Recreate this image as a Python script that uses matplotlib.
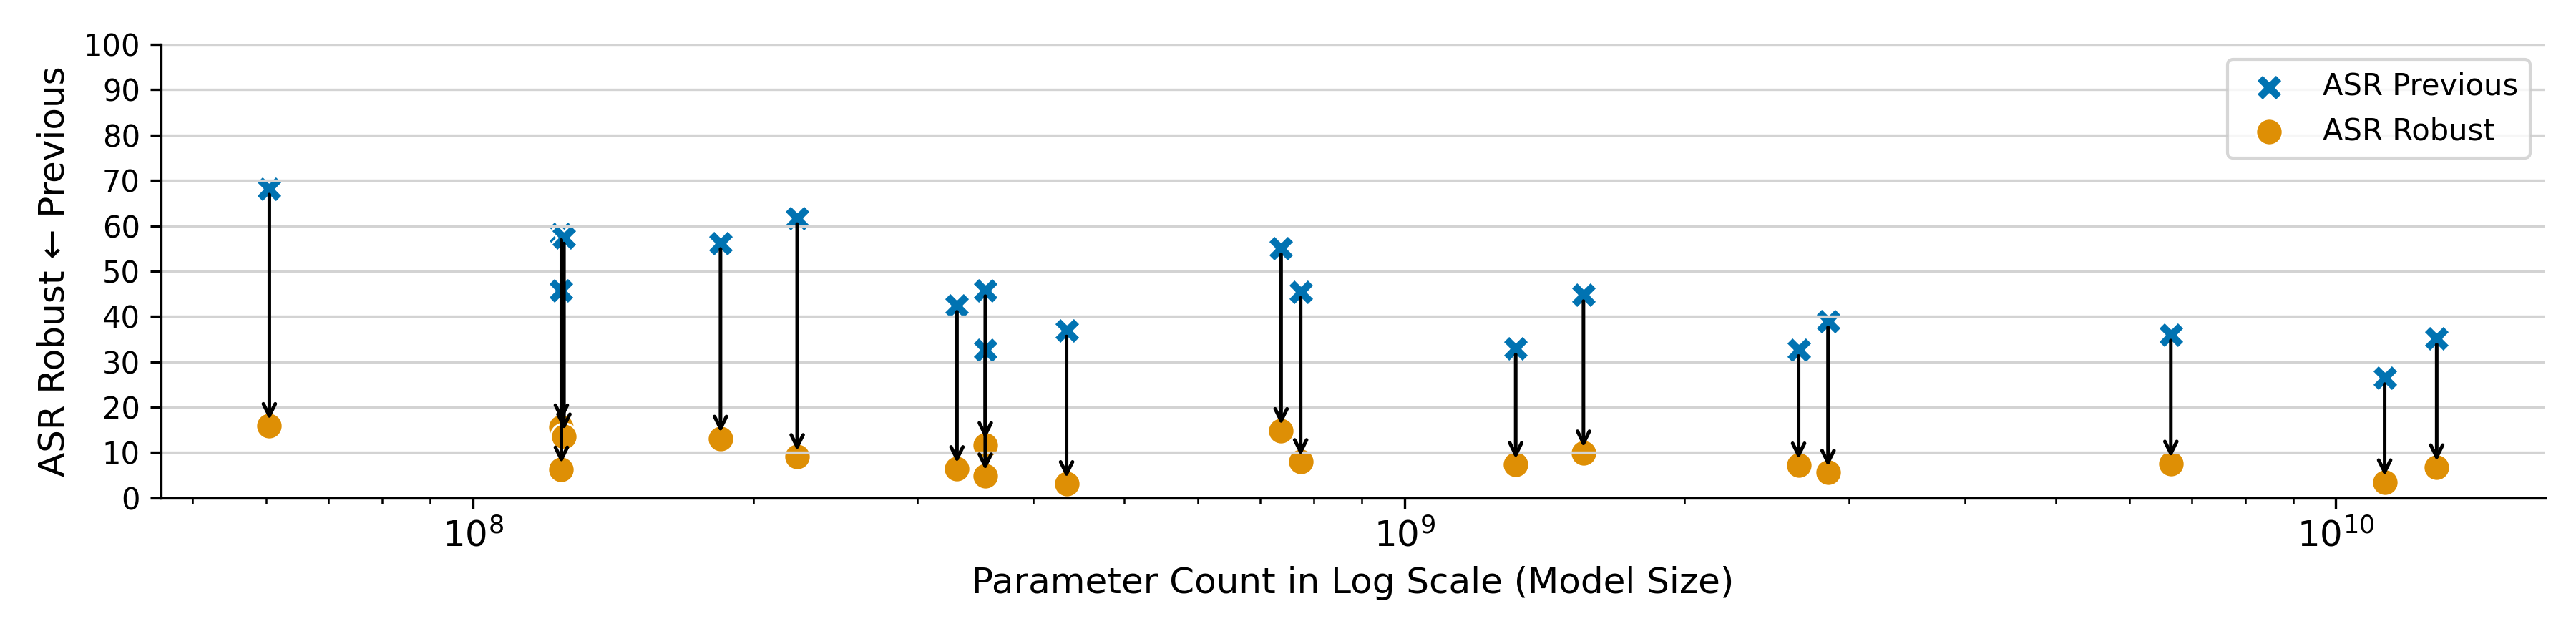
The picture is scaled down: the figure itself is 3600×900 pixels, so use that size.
import matplotlib
matplotlib.use("Agg")
import matplotlib.pyplot as plt

# parameter counts (log x axis) and attack success rates (%)
params = [6.05e7, 1.245e8, 1.253e8, 1.245e8, 1.845e8, 2.23e8, 3.31e8, 3.55e8, 3.55e8,
          4.34e8, 7.375e8, 7.74e8, 1.317e9, 1.557e9, 2.65e9, 2.85e9, 6.65e9,
          1.128e10, 1.283e10]
asr_previous = [68.2, 58.2, 57.4, 45.8, 56.2, 61.7, 42.35, 45.8, 32.6, 36.9, 55.0, 45.4,
                32.9, 44.7, 32.6, 38.9, 36.0, 26.4, 35.1]
asr_robust = [15.9, 15.6, 13.6, 6.3, 13.1, 9.05, 6.4, 11.7, 4.8, 3.1, 14.8, 7.95, 7.3,
              9.85, 7.2, 5.6, 7.6, 3.5, 6.8]

blue = '#0173b2'
orange = '#de8f05'


def main():
    fig, ax = plt.subplots(figsize=(12, 3), dpi=300)
    fig.subplots_adjust(left=0.0625, right=0.988, bottom=0.227, top=0.931)

    ax.scatter(params, asr_previous, marker='X', s=80, color=blue,
               edgecolors='white', linewidths=0.7, label='ASR Previous')
    ax.scatter(params, asr_robust, marker='o', s=80, color=orange,
               edgecolors='white', linewidths=0.7, label='ASR Robust')

    for x, p, r in zip(params, asr_previous, asr_robust):
        ax.annotate('', xy=(x, r), xytext=(x, p),
                    arrowprops=dict(arrowstyle='->', color='black', lw=1.2))

    ax.set_xscale('log')
    ax.set_ylim(0, 100)
    ax.set_yticks(range(0, 101, 10))
    ax.tick_params(axis='y', labelsize=10)
    ax.tick_params(axis='x', labelsize=12)
    ax.grid(axis='y', color='lightgray', linewidth=0.8)
    ax.spines['top'].set_visible(False)
    ax.spines['right'].set_visible(False)

    ax.set_xlabel('Parameter Count in Log Scale (Model Size)', fontsize=12)
    ax.set_ylabel('ASR Robust \u2190 Previous', fontsize=12)
    ax.legend(loc='upper right', fontsize=10)

    fig.savefig('out.png', dpi=300)


if __name__ == '__main__':
    main()
